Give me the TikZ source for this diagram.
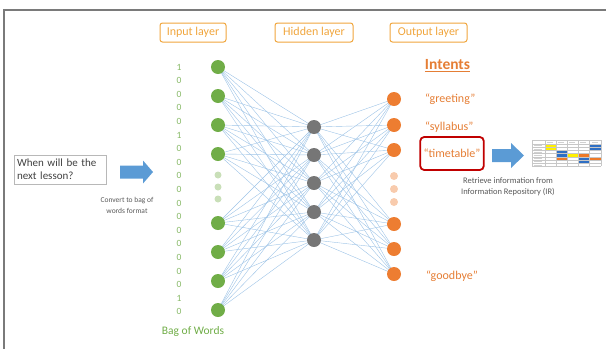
\documentclass[tikz,border=0pt]{standalone}
\usepackage{fontspec}
\setmainfont{Carlito}
\usetikzlibrary{backgrounds}
\definecolor{ingreen}{HTML}{70AD47}
\definecolor{fadegreen}{HTML}{C9DFB8}
\definecolor{bitgreen}{HTML}{86B865}
\definecolor{hidgray}{HTML}{767676}
\definecolor{outorange}{HTML}{ED7D31}
\definecolor{fadeorange}{HTML}{F8CBAD}
\definecolor{textorange}{HTML}{E57E35}
\definecolor{layerorange}{HTML}{F0A53C}
\definecolor{linkblue}{HTML}{9DC3E6}
\definecolor{arrowblue}{HTML}{5B9BD5}
\definecolor{boxred}{HTML}{C00000}
\definecolor{framegray}{HTML}{7A7A7A}
\definecolor{notegray}{HTML}{595959}
\definecolor{tblyellow}{HTML}{FFF000}
\definecolor{tblblue}{HTML}{2F6FC4}
\definecolor{tblorange}{HTML}{EE7A28}
\begin{document}
\begin{tikzpicture}[x=1pt,y=-1pt,
  inode/.style={circle,fill=ingreen,minimum size=14pt,inner sep=0pt},
  hnode/.style={circle,fill=hidgray,minimum size=14pt,inner sep=0pt},
  onode/.style={circle,fill=outorange,minimum size=14pt,inner sep=0pt},
  gdot/.style={circle,fill=fadegreen,minimum size=7pt,inner sep=0pt},
  odot/.style={circle,fill=fadeorange,minimum size=8pt,inner sep=0pt},
  link/.style={draw=linkblue,line width=0.4pt},
  layerbox/.style={draw=layerorange,rounded corners=2.5pt,line width=1pt,text=layerorange,
    font=\fontsize{12}{14}\selectfont,minimum height=19pt,inner sep=0pt},
  bit/.style={text=bitgreen,font=\fontsize{9.5}{11}\selectfont,inner sep=0pt},
  intent/.style={text=textorange,font=\fontsize{12}{14}\selectfont,inner sep=0pt,anchor=west},
  note/.style={text=notegray,align=center,inner sep=0pt},
  bigarrow/.style={fill=arrowblue}
]
\useasboundingbox (0,0) rectangle (606,349);

% frame
\draw[framegray,line width=2pt] (606,10) -- (4,10) -- (4,349);

% layer titles
\node[layerbox,minimum width=66pt] (tin) at (193,32.5) {Input layer};
\node[layerbox,minimum width=78pt] (thid) at (314,32.5) {Hidden layer};
\node[layerbox,minimum width=77pt] (tout) at (428.5,32.5) {Output layer};

% bag-of-words vector
\foreach \v [count=\i from 0] in {1,0,0,0,0,1,0,0,0,0,0,0,0,0,0,0,0,1,0}
  \node[bit] (b\i) at (179,{67+13.6*\i}) {\v};
\node[text=ingreen,font=\fontsize{11.5}{13}\selectfont] (bow) at (193,331) {Bag of Words};

% input layer
\foreach \y [count=\i] in {67,96,125,154,223,252,281,310}
  \node[inode] (i\i) at (218,\y) {};
\foreach \y [count=\i] in {175,187,199}
  \node[gdot] (ig\i) at (218,\y) {};

% hidden layer
\foreach \y [count=\i] in {127,155,183,212,240}
  \node[hnode] (h\i) at (314,\y) {};

% output layer
\foreach \y [count=\i] in {99,125,150,224,249,274}
  \node[onode] (o\i) at (394,\y) {};
\foreach \y [count=\i] in {176,189,202}
  \node[odot] (og\i) at (394,\y) {};

% weights
\begin{scope}[on background layer]
  \foreach \a in {1,...,8}
    \foreach \b in {1,...,5}
      \draw[link] (i\a.center) -- (h\b.center);
  \foreach \a in {1,...,5}
    \foreach \b in {1,...,6}
      \draw[link] (h\a.center) -- (o\b.center);
\end{scope}

% intents
\node[text=textorange,font=\bfseries\fontsize{15.5}{17}\selectfont,inner sep=0pt] (int) at (447.5,66) {\underline{Intents}};
\node[intent] (greet) at (425,99) {``greeting''};
\node[intent] (syl) at (425,127) {``syllabus''};
\node[draw=boxred,line width=1.8pt,rounded corners=4pt,text=textorange,
  font=\fontsize{12}{14}\selectfont,minimum width=62pt,minimum height=33pt] (tt) at (452,153.5) {``timetable''};
\node[intent] (bye) at (426,276) {``goodbye''};

% user question
\node[draw=black!28,line width=0.8pt,minimum width=92pt,minimum height=29pt,
  text width=86pt,align=left,text=black!75,font=\fontsize{11}{13}\selectfont,inner sep=3pt]
  (q) at (60,169.5) {When will be the\\next lesson?};

% arrows
\fill[bigarrow] (120,165.5) -- (143,165.5) -- (143,160.5) -- (153,172) -- (143,183.5)
  -- (143,178.5) -- (120,178.5) -- cycle;
\node[note,font=\fontsize{7.5}{11}\selectfont] (conv) at (127,205) {Convert to bag of\\words format};

\fill[bigarrow] (492,149) -- (511,149) -- (511,143) -- (524,155.5) -- (511,168)
  -- (511,162) -- (492,162) -- cycle;

% timetable thumbnail
\begin{scope}
  \fill[tblyellow] (545,144) rectangle (556,150.4);
  \fill[tblblue] (556,150.4) rectangle (567,157);
  \fill[tblorange] (556,157) rectangle (567,160.2);
  \fill[tblyellow] (567,153.6) rectangle (578,157);
  \fill[tblorange] (578,153.6) rectangle (589,157);
  \fill[tblblue] (578,157) rectangle (589,163.4);
  \fill[tblblue] (589,144.5) rectangle (601,150.4);
  \fill[tblorange] (589,157) rectangle (601,160.2);
  \foreach \y in {140,144,147.2,150.4,153.6,156.8,160,163.2,166.4}
    \draw[black!22,line width=0.25pt] (532,\y) -- (601,\y);
  \foreach \x in {532,545,556,567,578,589,601}
    \draw[black!22,line width=0.25pt] (\x,140) -- (\x,166.4);
  \foreach \y in {145.6,148.8,152,155.2,158.4,161.6,164.8}
    \draw[black!18,line width=0.5pt] (533.5,\y) -- (542,\y);
  \foreach \x in {547,558,569,580,592}
    \draw[black!18,line width=0.5pt] (\x,142) -- (\x+6,142);
\end{scope}
\node[note,font=\fontsize{8.5}{11}\selectfont] (ret) at (508,187) {Retrieve information from\\Information Repository (IR)};

\end{tikzpicture}
\end{document}
